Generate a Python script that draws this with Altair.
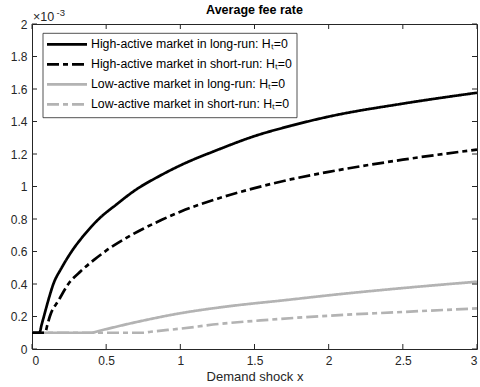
import altair as alt
import pandas as pd

# ---------------- data (values in units of 1e-3) ----------------
series_names = [
    "High-active market in long-run: H\u209c=0",
    "High-active market in short-run: H\u209c=0",
    "Low-active market in long-run: H\u209c=0",
    "Low-active market in short-run: H\u209c=0",
]

hl_x = [0, 0.05, 0.065, 0.08, 0.11, 0.144, 0.2, 0.267, 0.35, 0.45, 0.57, 0.7, 0.85, 1.0,
        1.25, 1.5, 1.75, 2.0, 2.5, 3.0]
hl_y = [0.1, 0.1, 0.15, 0.2, 0.3, 0.4, 0.5, 0.6, 0.7, 0.8, 0.89, 0.98, 1.06, 1.13,
        1.225, 1.31, 1.375, 1.43, 1.51, 1.577]

hs_x = [0, 0.088, 0.104, 0.12, 0.18, 0.245, 0.33, 0.42, 0.5, 0.62, 0.75, 0.875, 1.0,
        1.25, 1.5, 1.75, 2.0, 2.5, 3.0]
hs_y = [0.1, 0.1, 0.15, 0.2, 0.3, 0.4, 0.48, 0.55, 0.605, 0.675, 0.74, 0.795, 0.845,
        0.925, 0.99, 1.045, 1.09, 1.165, 1.227]

ll_x = [0, 0.4, 0.45, 0.7, 1.0, 1.3, 1.7, 2.1, 2.5, 3.0]
ll_y = [0.1, 0.1, 0.111, 0.165, 0.22, 0.26, 0.30, 0.34, 0.375, 0.414]

ls_x = [0, 0.75, 0.8, 1.0, 1.26, 1.6, 2.0, 2.5, 3.0]
ls_y = [0.1, 0.1, 0.106, 0.125, 0.154, 0.18, 0.205, 0.228, 0.25]

x_ticks = [0, 0.5, 1, 1.5, 2, 2.5, 3]
y_ticks = [0, 0.2, 0.4, 0.6, 0.8, 1.0, 1.2, 1.4, 1.6, 1.8, 2.0]

title_text = "Average fee rate"
x_title = "Demand shock x"

# ---------------- styles ----------------
colors = ["#000000", "#000000", "#b3b3b3", "#b3b3b3"]
dashes = [[1, 0], [12, 4, 5, 4], [1, 0], [12, 4, 5, 4]]
AX = "#262626"
FONT = "Liberation Sans"
W, H = 445, 325
LW = 2.7

# draw low-active series first so the black ones lie on top
rows = []
all_x = [hl_x, hs_x, ll_x, ls_x]
all_y = [hl_y, hs_y, ll_y, ls_y]
for k in [2, 3, 0, 1]:
    for i, (a, b) in enumerate(zip(all_x[k], all_y[k])):
        rows.append({"series": series_names[k], "x": a, "y": b, "ord": i})
df = pd.DataFrame(rows)

xscale = alt.Scale(domain=[0, 3], nice=False, zero=False)
yscale = alt.Scale(domain=[0, 2], nice=False, zero=False)
color_scale = alt.Scale(domain=series_names, range=colors)
dash_scale = alt.Scale(domain=series_names, range=dashes)

x_axis = alt.Axis(values=x_ticks, format="~g", title=x_title,
                  ticks=False, domain=False, grid=False,
                  labelPadding=6, titlePadding=4)
y_axis = alt.Axis(values=y_ticks, format="~g", title=None,
                  ticks=False, domain=False, grid=False, labelPadding=5)

lines = alt.Chart(df).mark_line(strokeWidth=LW, clip=True, interpolate="monotone").encode(
    x=alt.X("x:Q", scale=xscale, axis=x_axis),
    y=alt.Y("y:Q", scale=yscale, axis=y_axis),
    color=alt.Color("series:N", scale=color_scale, legend=None),
    strokeDash=alt.StrokeDash("series:N", scale=dash_scale, legend=None),
    order=alt.Order("ord:Q"),
)

one = pd.DataFrame({"a": [0]})

# inward ticks on all four sides
xt = pd.DataFrame({"x": x_ticks})
yt = pd.DataFrame({"y": y_ticks})
tick_layers = [
    alt.Chart(xt).mark_rule(color=AX, strokeWidth=1).encode(
        x=alt.X("x:Q", scale=xscale, axis=x_axis), y=alt.value(H), y2=alt.value(H - 5)),
    alt.Chart(xt).mark_rule(color=AX, strokeWidth=1).encode(
        x=alt.X("x:Q", scale=xscale, axis=x_axis), y=alt.value(0), y2=alt.value(5)),
    alt.Chart(yt).mark_rule(color=AX, strokeWidth=1).encode(
        y=alt.Y("y:Q", scale=yscale, axis=y_axis), x=alt.value(0), x2=alt.value(5)),
    alt.Chart(yt).mark_rule(color=AX, strokeWidth=1).encode(
        y=alt.Y("y:Q", scale=yscale, axis=y_axis), x=alt.value(W), x2=alt.value(W - 5)),
]

# legend
legend_layers = [
    alt.Chart(one).mark_rect(fill="white", stroke=AX, strokeWidth=0.8).encode(
        x=alt.value(11), x2=alt.value(265), y=alt.value(9.3), y2=alt.value(93.7))
]
for i, name in enumerate(series_names):
    yy = 20.3 + 20 * i
    legend_layers.append(
        alt.Chart(one).mark_rule(strokeWidth=LW, color=colors[i], strokeDash=dashes[i]).encode(
            x=alt.value(15), x2=alt.value(55), y=alt.value(yy)))
    legend_layers.append(
        alt.Chart(one).mark_text(align="left", baseline="middle", font=FONT,
                                 fontSize=12.3, color="#000000").encode(
            x=alt.value(59), y=alt.value(yy), text=alt.value(name)))

# exponent label and title
text_layers = [
    alt.Chart(one).mark_text(align="left", baseline="alphabetic", font=FONT,
                             fontSize=12.5, color=AX).encode(
        x=alt.value(1), y=alt.value(-3.3), text=alt.value("\u00d710")),
    alt.Chart(one).mark_text(align="left", baseline="alphabetic", font=FONT,
                             fontSize=9.5, color=AX).encode(
        x=alt.value(24.5), y=alt.value(-8), text=alt.value("-3")),
    alt.Chart(one).mark_text(align="center", baseline="alphabetic", font=FONT,
                             fontSize=12.5, fontWeight="bold", color="#000000").encode(
        x=alt.value(W / 2), y=alt.value(-10), text=alt.value(title_text)),
]

chart = alt.layer(lines, *tick_layers, *legend_layers, *text_layers).properties(
    width=W, height=H,
    padding={"left": 32, "top": 24, "right": 3, "bottom": 38},
    autosize="none",
    background="white",
).configure_view(stroke=AX, strokeWidth=1).configure_axis(
    labelFont=FONT, labelFontSize=12, labelColor=AX,
    titleFont=FONT, titleFontSize=13, titleColor=AX, titleFontWeight="normal",
)

chart.save("out.html", embed_options={"renderer": "svg", "actions": False})
